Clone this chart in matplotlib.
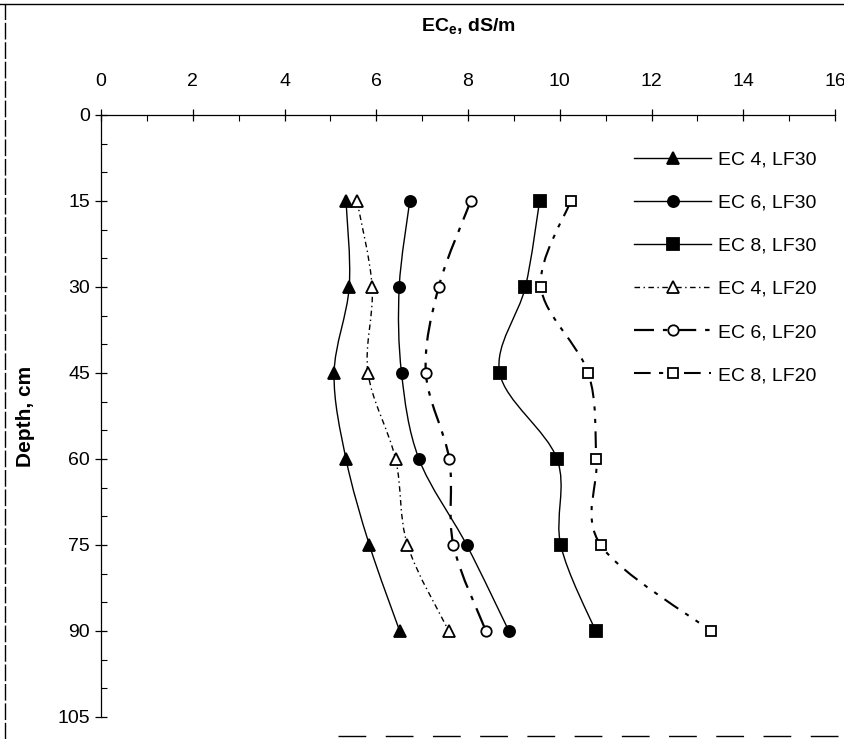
import matplotlib
matplotlib.use("Agg")
import matplotlib.pyplot as plt
from matplotlib.path import Path
from matplotlib.patches import PathPatch
from matplotlib.lines import Line2D
from matplotlib.ticker import MultipleLocator

plt.rcParams["font.family"] = ["Liberation Sans", "DejaVu Sans"]

depth = [15, 30, 45, 60, 75, 90]
ec4_lf30 = [5.34, 5.41, 5.08, 5.34, 5.85, 6.51]
ec6_lf30 = [6.73, 6.50, 6.55, 6.93, 7.97, 8.89]
ec8_lf30 = [9.56, 9.25, 8.69, 9.94, 10.02, 10.78]
ec4_lf20 = [5.58, 5.91, 5.82, 6.42, 6.68, 7.58]
ec6_lf20 = [8.06, 7.36, 7.08, 7.59, 7.68, 8.39]
ec8_lf20 = [10.24, 9.59, 10.62, 10.80, 10.89, 13.29]
labels = ["EC 4, LF30", "EC 6, LF30", "EC 8, LF30",
          "EC 4, LF20", "EC 6, LF20", "EC 8, LF20"]

styles = [
    dict(marker="^", mfc="black", ms=9, ls="-", lw=1.0),
    dict(marker="o", mfc="black", ms=8, ls="-", lw=1.0),
    dict(marker="s", mfc="black", ms=8, ls="-", lw=1.0),
    dict(marker="^", mfc="white", ms=9, ls=(0, (4, 2.5, 1, 2.5)), lw=1.0),
    dict(marker="o", mfc="white", ms=7.5, ls=(0, (9, 4, 2, 4)), lw=1.6),
    dict(marker="s", mfc="white", ms=7.5, ls=(0, (8, 4, 2, 4, 2, 4)), lw=1.5),
]


def smooth_path(xs, ys):
    # Excel-style smoothed line through the points (Catmull-Rom as cubic Bezier)
    pts = list(zip(xs, ys))
    verts = [pts[0]]
    codes = [Path.MOVETO]
    for i in range(len(pts) - 1):
        p0 = pts[i - 1] if i > 0 else pts[i]
        p1, p2 = pts[i], pts[i + 1]
        p3 = pts[i + 2] if i + 2 < len(pts) else pts[i + 1]
        c1 = (p1[0] + (p2[0] - p0[0]) / 6, p1[1] + (p2[1] - p0[1]) / 6)
        c2 = (p2[0] - (p3[0] - p1[0]) / 6, p2[1] - (p3[1] - p1[1]) / 6)
        verts += [c1, c2, p2]
        codes += [Path.CURVE4] * 3
    return Path(verts, codes)


fig = plt.figure(figsize=(8.44, 7.39), dpi=100)
ax = fig.add_axes([0.1197, 0.0298, 0.8697, 0.8146])

series = [ec4_lf30, ec6_lf30, ec8_lf30, ec4_lf20, ec6_lf20, ec8_lf20]
handles = []
for vals, st, lab in zip(series, styles, labels):
    ax.add_patch(PathPatch(smooth_path(vals, depth), fill=False,
                           edgecolor="black", lw=st["lw"], linestyle=st["ls"]))
    ax.plot(vals, depth, linestyle="none", marker=st["marker"], ms=st["ms"],
            mfc=st["mfc"], mec="black", mew=1.3, zorder=3)
    handles.append(Line2D([], [], color="black", lw=st["lw"], linestyle=st["ls"],
                          marker=st["marker"], ms=st["ms"], mfc=st["mfc"],
                          mec="black", mew=1.3))

ax.set_xlim(0, 16)
ax.set_ylim(105, 0)
ax.xaxis.set_major_locator(MultipleLocator(2))
ax.xaxis.set_minor_locator(MultipleLocator(1))
ax.yaxis.set_major_locator(MultipleLocator(15))
ax.yaxis.set_minor_locator(MultipleLocator(5))
ax.xaxis.tick_top()
ax.xaxis.set_label_position("top")
for s in ["right", "bottom"]:
    ax.spines[s].set_visible(False)
ax.spines["top"].set_linewidth(0.9)
ax.spines["left"].set_linewidth(0.9)
ax.tick_params(axis="both", which="major", direction="inout", length=8,
               width=0.9, labelsize=14, pad=4)
ax.tick_params(axis="x", which="major", pad=14)
ax.tick_params(axis="both", which="minor", direction="in", length=4, width=0.8)

ax.set_xlabel(r"EC$_\mathregular{e}$, dS/m", fontsize=14, fontweight="bold",
              labelpad=30)
ax.set_ylabel("Depth, cm", fontsize=15, fontweight="bold", labelpad=16)

ax.legend(handles, labels, loc="upper right", bbox_to_anchor=(0.975, 0.94),
          frameon=False, fontsize=14, handlelength=4.0, handletextpad=0.35,
          labelspacing=1.31, borderaxespad=0, borderpad=0)

# scanned page border
fig.add_artist(Line2D([0, 1], [0.995, 0.995], color="black", lw=1.0,
                      transform=fig.transFigure))
fig.add_artist(Line2D([0.006, 0.006], [0, 0.995], color="black", lw=1.0,
                      linestyle=(0, (12, 2)), transform=fig.transFigure))
fig.add_artist(Line2D([0.4, 1], [0.004, 0.004], color="black", lw=1.0,
                      linestyle=(0, (20, 14)), transform=fig.transFigure))

fig.savefig("out.png", dpi=100)
